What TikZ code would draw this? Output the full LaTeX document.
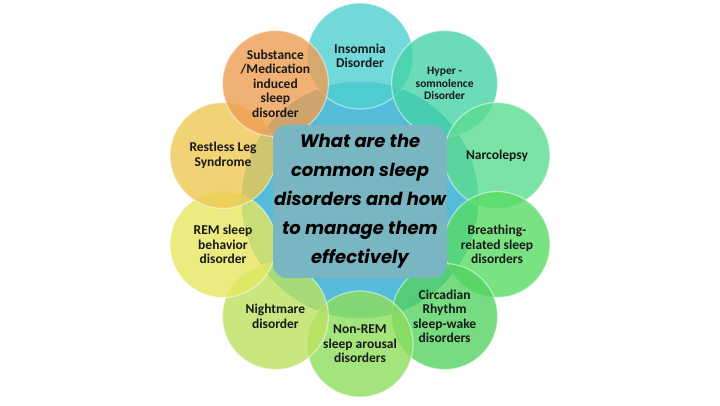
\documentclass[tikz,border=0pt]{standalone}
\usepackage{xcolor}
\usepackage{fontspec}
\setmainfont{Carlito}
\newfontfamily\handfont{Poppins}
\usepackage{tikz}
\definecolor{hub_blue}{RGB}{84,188,216}
\definecolor{box_teal}{RGB}{122,182,194}
\definecolor{c_ins}{RGB}{78,208,208}
\definecolor{c_hyp}{RGB}{70,210,168}
\definecolor{c_nar}{RGB}{92,220,144}
\definecolor{c_bre}{RGB}{88,220,100}
\definecolor{c_cir}{RGB}{84,210,98}
\definecolor{c_nrem}{RGB}{140,222,92}
\definecolor{c_nig}{RGB}{188,226,96}
\definecolor{c_rem}{RGB}{230,230,96}
\definecolor{c_rls}{RGB}{238,200,84}
\definecolor{c_sub}{RGB}{238,158,82}
\tikzstyle{sd_hub} = [circle, draw=hub_blue!80!black, fill=hub_blue, minimum size=236pt, inner sep=0pt]
\tikzstyle{sd_c} = [circle, draw=white, draw opacity=0.5, line width=1.2pt, fill opacity=0.8, text opacity=1, text=black!90, minimum size=106pt, inner sep=0pt, align=center, font=\bfseries\fontsize{13.5}{14.5}\selectfont]
\tikzstyle{sd_box} = [rectangle, rounded corners=14pt, fill=box_teal, minimum width=174pt, minimum height=153pt, inner sep=0pt, align=center, font=\handfont\bfseries\itshape\fontsize{18}{29}\selectfont]

\begin{document}
\begin{tikzpicture}[x=1pt,y=-1pt]
\fill[white] (0,0) rectangle (720,405);
\useasboundingbox (0,0) rectangle (720,405);
\node [sd_hub] (hub) at (360,200) {};
\node [sd_c, fill=c_ins] (insomnia) at (360,56) {Insomnia\\Disorder};
\node [sd_c, fill=c_hyp, font=\bfseries\fontsize{11.5}{12.5}\selectfont] (hyper) at (444.6,83.5) {Hyper -\\somnolence\\Disorder};
\node [sd_c, fill=c_nar] (narco) at (497,155.5) {Narcolepsy};
\node [sd_c, fill=c_bre] (breath) at (497,244.5) {Breathing-\\related sleep\\disorders};
\node [sd_c, fill=c_cir] (circ) at (444.6,316.5) {Circadian\\Rhythm\\sleep-wake\\disorders};
\node [sd_c, fill=c_nrem] (nonrem) at (360,344) {Non-REM\\sleep arousal\\disorders};
\node [sd_c, fill=c_nig] (night) at (275.4,316.5) {Nightmare\\disorder};
\node [sd_c, fill=c_rem] (rem) at (223,244.5) {REM sleep\\behavior\\disorder};
\node [sd_c, fill=c_rls] (rls) at (223,155.5) {Restless Leg\\Syndrome};
\node [sd_c, fill=c_sub] (subst) at (275.4,83.5) {Substance\\/Medication\\induced\\sleep\\disorder};
\node [sd_box] (question) at (360,201.5) {What are the\\common sleep\\disorders and how\\to manage them\\effectively};
\end{tikzpicture}
\end{document}
